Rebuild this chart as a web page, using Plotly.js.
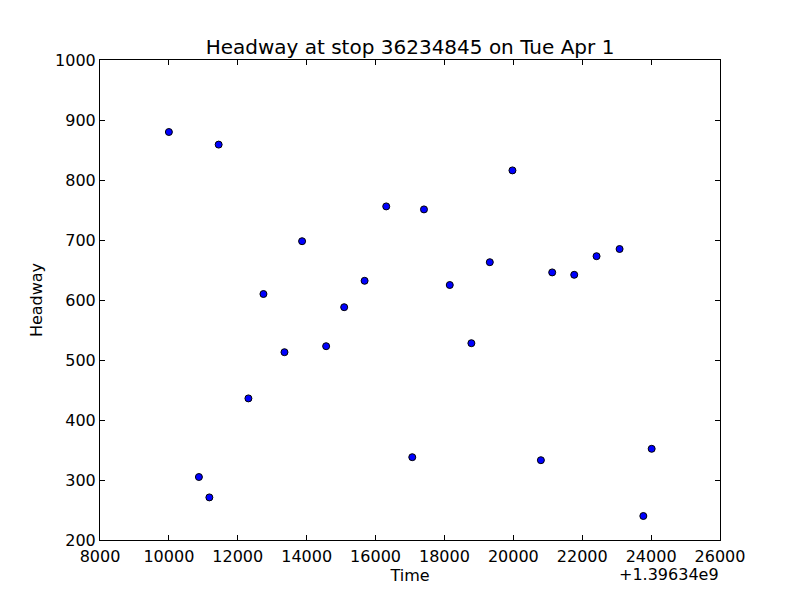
<!DOCTYPE html>
<html>
<head>
<meta charset="utf-8">
<script src="https://cdn.plot.ly/plotly-3.0.1.min.js"></script>
<style>body{margin:0;padding:0;background:#fff;} #chart{width:800px;height:600px;}</style>
</head>
<body>
<div id="chart"></div>
<script>
// Time offsets (seconds after 1.39634e9)
const timeOffset = [10000, 10872, 11175, 11445, 12309, 12745, 13356, 13867, 14565, 15089, 15682, 16310, 17066, 17406, 18154, 18782, 19317, 19974, 20800, 21128, 21768, 22416, 23085, 23774, 24016];
// Headway values
const headway = [880, 305, 271, 859, 436, 610, 513, 698, 523, 588, 632, 756, 338, 751, 625, 528, 663, 816, 333, 646, 642, 673, 685, 240, 352];
const xTicks = [8000, 10000, 12000, 14000, 16000, 18000, 20000, 22000, 24000, 26000];
const yTicks = [200, 300, 400, 500, 600, 700, 800, 900, 1000];

const font = {family: 'DejaVu Sans, sans-serif', color: '#000'};

const trace = {
  type: 'scatter', mode: 'markers',
  x: timeOffset, y: headway,
  marker: {color: '#0000ff', size: 7, line: {color: '#000', width: 1}},
  hoverinfo: 'none'
};

const axisCommon = {
  showgrid: false, zeroline: false,
  showline: true, linecolor: '#000', linewidth: 1, mirror: 'ticks',
  ticks: 'inside', ticklen: 5, tickwidth: 1, tickcolor: '#000',
  tickfont: Object.assign({size: 16}, font)
};

const layout = {
  width: 800, height: 600,
  margin: {l: 100, r: 80, t: 60, b: 60},
  paper_bgcolor: '#fff', plot_bgcolor: '#fff',
  showlegend: false,
  title: {text: 'Headway at stop 36234845 on Tue Apr 1', font: Object.assign({size: 20}, font), x: 0.5, xref: 'paper', y: 0.921, yref: 'container', yanchor: 'middle'},
  xaxis: Object.assign({}, axisCommon, {
    range: [8000, 26000], tickvals: xTicks, ticktext: xTicks.map(String),
    ticklabelstandoff: 2,
    title: {text: 'Time', font: Object.assign({size: 16}, font), standoff: 4}
  }),
  yaxis: Object.assign({}, axisCommon, {
    range: [200, 1000], tickvals: yTicks, ticktext: yTicks.map(String),
    title: {text: 'Headway', font: Object.assign({size: 16}, font), standoff: 8}
  }),
  annotations: [{
    text: '+1.39634e9', xref: 'paper', yref: 'paper', x: 1, y: 0, xanchor: 'right', yanchor: 'top',
    yshift: -23, xshift: 1, showarrow: false, font: Object.assign({size: 16}, font)
  }]
};

Plotly.newPlot('chart', [trace], layout, {staticPlot: true, displayModeBar: false});
</script>
</body>
</html>
